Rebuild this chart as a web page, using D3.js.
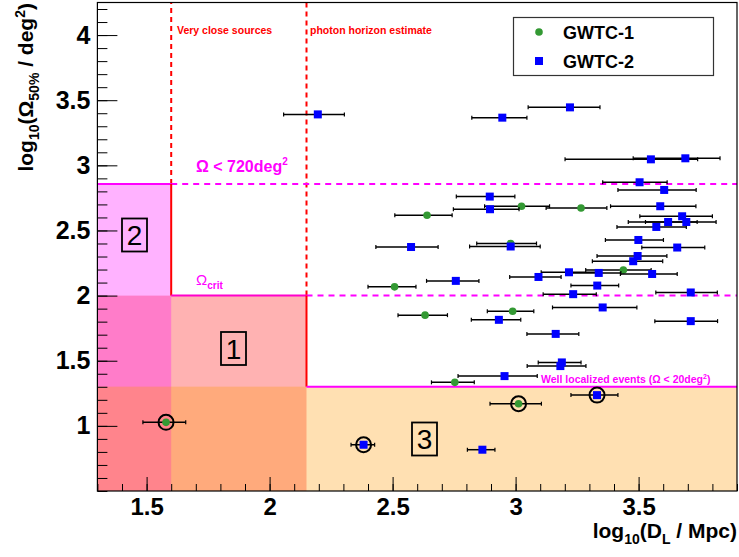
<!DOCTYPE html>
<html>
<head>
<meta charset="utf-8">
<script src="https://cdn.jsdelivr.net/npm/d3@7"></script>
<style>
  body { margin: 0; background: #fff; }
  text { font-family: "Liberation Sans", Arial, sans-serif; }
</style>
</head>
<body>
<svg id="chart" width="739" height="557"></svg>
<script>
// GWTC-1 events: log10(D_L) with x error range, log10(Omega_50%)
var gwtc1X   = [1.579, 3.012, 2.753, 2.632, 2.988, 2.508, 3.438, 2.980, 2.640, 3.024, 3.266];
var gwtc1XLo = [1.485, 2.896, 2.658, 2.522, 2.885, 2.400, 3.285, 2.842, 2.509, 2.874, 3.124];
var gwtc1XHi = [1.659, 3.105, 2.832, 2.723, 3.074, 2.595, 3.551, 3.085, 2.742, 3.138, 3.371];
var gwtc1Y   = [1.027, 1.170, 1.334, 1.850, 1.880, 2.067, 2.197, 2.400, 2.617, 2.686, 2.673];

// GWTC-2 events
var gwtc2X   = [2.196, 2.946, 3.221, 3.550, 3.690, 3.504, 3.604, 2.895, 2.896, 3.588, 3.677, 3.620, 3.694,
                3.572, 3.499, 2.575, 2.980, 3.657, 3.496, 3.478, 3.217, 3.338, 3.555, 3.093, 2.757, 3.332,
                3.234, 3.712, 3.354, 2.932, 3.712, 3.163, 3.188, 3.182, 2.955, 3.331, 2.382, 2.865];
var gwtc2XLo = [2.057, 2.822, 3.051, 3.201, 3.478, 3.354, 3.416, 2.759, 2.747, 3.386, 3.505, 3.458, 3.528,
                3.412, 3.365, 2.432, 2.813, 3.513, 3.331, 3.312, 3.104, 3.224, 3.426, 2.976, 2.638, 3.225,
                3.112, 3.570, 3.150, 2.820, 3.566, 3.046, 3.092, 3.047, 2.766, 3.225, 2.331, 2.804];
var gwtc2XHi = [2.304, 3.046, 3.343, 3.740, 3.831, 3.616, 3.734, 2.997, 3.014, 3.733, 3.800, 3.738, 3.815,
                3.694, 3.601, 2.685, 3.100, 3.769, 3.615, 3.598, 3.335, 3.428, 3.657, 3.185, 2.851, 3.419,
                3.328, 3.820, 3.493, 3.021, 3.821, 3.257, 3.266, 3.286, 3.088, 3.416, 2.427, 2.916];
var gwtc2Y   = [3.391, 3.366, 3.445, 3.046, 3.054, 2.870, 2.811, 2.760, 2.663, 2.686, 2.609, 2.565, 2.565,
                2.527, 2.427, 2.373, 2.377, 2.369, 2.304, 2.264, 2.179, 2.174, 2.166, 2.143, 2.113, 2.077,
                2.011, 2.024, 1.909, 1.814, 1.804, 1.706, 1.487, 1.459, 1.382, 1.236, 0.855, 0.817];

// circled (highlighted) events
var circledX = [1.579, 3.012, 3.331, 2.382];
var circledY = [1.027, 1.170, 1.236, 0.855];

// thresholds
var closeLimit   = 1.6;    // very close sources
var horizonLimit = 2.15;   // photon horizon estimate
var omega720     = Math.log10(720);
var omegaCrit    = 2.0;
var omega20      = Math.log10(20);

var xTicks = [1.5, 2, 2.5, 3, 3.5];
var yTicks = [1, 1.5, 2, 2.5, 3, 3.5, 4];

var svg = d3.select('#chart');

var x = d3.scaleLinear().domain([1.3, 3.9]).range([97.4, 737]);
var y = d3.scaleLinear().domain([0.5, 4.25]).range([491, 2.5]);

var x0 = x.domain()[0], x1 = x.domain()[1];
var y0 = y.domain()[0], y1 = y.domain()[1];

// shaded regions (transparent, overlapping)
function region(xa, xb, ya, yb, col) {
    svg.append('rect')
        .attr('x', x(xa)).attr('y', y(yb))
        .attr('width', x(xb) - x(xa)).attr('height', y(ya) - y(yb))
        .attr('fill', col).attr('fill-opacity', 0.3);
}
region(x0, horizonLimit, y0, omegaCrit, '#ff0000');   // 1
region(x0, closeLimit, y0, omega720, '#ff00ff');      // 2
region(x0, x1, y0, omega20, '#ff9900');               // 3

// dashed threshold lines
function line(xa, ya, xb, yb, col, dash) {
    svg.append('line')
        .attr('x1', x(xa)).attr('y1', y(ya)).attr('x2', x(xb)).attr('y2', y(yb))
        .attr('stroke', col).attr('stroke-width', 2)
        .attr('stroke-dasharray', dash || null);
}
line(closeLimit, omega720, closeLimit, y1, '#ff0000', '5,4');
line(horizonLimit, omegaCrit, horizonLimit, y1, '#ff0000', '5,4');
line(closeLimit, omega720, x1, omega720, '#ff00ff', '6,5');
line(horizonLimit, omegaCrit, x1, omegaCrit, '#ff00ff', '6,5');

// solid region borders
line(x0, omega720, closeLimit, omega720, '#ff00ff');
line(closeLimit, omega720, closeLimit, omegaCrit, '#ff0000');
line(closeLimit, omegaCrit, horizonLimit, omegaCrit, '#ff00cc');
line(horizonLimit, omegaCrit, horizonLimit, omega20, '#ff0000');
line(horizonLimit, omega20, x1, omega20, '#ff00ff');

// axes
var yb = y.range()[0];
svg.append('g').attr('transform', 'translate(0,' + yb + ')')
    .call(d3.axisBottom(x).tickValues(d3.range(13, 40).map(function(d){ return d / 10; }))
        .tickSizeInner(-7).tickSizeOuter(0).tickFormat(''))
    .call(function(g){ g.select('.domain').remove(); });
svg.append('g').attr('transform', 'translate(0,' + yb + ')')
    .call(d3.axisBottom(x).tickValues(xTicks).tickSizeInner(-14).tickSizeOuter(0).tickPadding(7)
        .tickFormat(d3.format('')))
    .call(function(g){
        g.select('.domain').remove();
        g.selectAll('text').attr('font-size', 24).attr('font-weight', 'bold').attr('fill', '#000')
            .attr('font-family', '"Liberation Sans", Arial, sans-serif');
    });

svg.append('g').attr('transform', 'translate(' + x(x0) + ',0)')
    .call(d3.axisLeft(y).tickValues(d3.range(5, 43).map(function(d){ return d / 10; }))
        .tickSizeInner(-10).tickSizeOuter(0).tickFormat(''))
    .call(function(g){ g.select('.domain').remove(); });
svg.append('g').attr('transform', 'translate(' + x(x0) + ',0)')
    .call(d3.axisLeft(y).tickValues(yTicks).tickSizeInner(-20).tickSizeOuter(0).tickPadding(7)
        .tickFormat(d3.format('')))
    .call(function(g){
        g.select('.domain').remove();
        g.selectAll('text').attr('font-size', 25).attr('font-weight', 'bold').attr('fill', '#000')
            .attr('font-family', '"Liberation Sans", Arial, sans-serif');
    });

// frame
svg.append('rect')
    .attr('x', x(x0)).attr('y', y(y1))
    .attr('width', x(x1) - x(x0)).attr('height', y(y0) - y(y1))
    .attr('fill', 'none').attr('stroke', '#000').attr('stroke-width', 1.2);

// data with x error bars
function drawSeries(xs, lo, hi, ys, kind, col) {
    var g = svg.append('g');
    xs.forEach(function(d, i) {
        g.append('line').attr('x1', x(lo[i])).attr('x2', x(hi[i]))
            .attr('y1', y(ys[i])).attr('y2', y(ys[i]))
            .attr('stroke', '#000').attr('stroke-width', 1.5);
        [lo[i], hi[i]].forEach(function(e) {
            g.append('line').attr('x1', x(e)).attr('x2', x(e))
                .attr('y1', y(ys[i]) - 2).attr('y2', y(ys[i]) + 2)
                .attr('stroke', '#000').attr('stroke-width', 1.2);
        });
    });
    xs.forEach(function(d, i) {
        if (kind == 'circle') {
            g.append('circle').attr('cx', x(d)).attr('cy', y(ys[i])).attr('r', 3.8).attr('fill', col);
        } else {
            g.append('rect').attr('x', x(d) - 4).attr('y', y(ys[i]) - 4)
                .attr('width', 8).attr('height', 8).attr('fill', col);
        }
    });
}
drawSeries(gwtc1X, gwtc1XLo, gwtc1XHi, gwtc1Y, 'circle', '#339933');
drawSeries(gwtc2X, gwtc2XLo, gwtc2XHi, gwtc2Y, 'square', '#0000ff');

circledX.forEach(function(d, i) {
    svg.append('circle').attr('cx', x(d)).attr('cy', y(circledY[i])).attr('r', 7.5)
        .attr('fill', 'none').attr('stroke', '#000').attr('stroke-width', 2);
});

// region number boxes
function numBox(cx, cy, label) {
    svg.append('rect').attr('x', cx - 12.5).attr('y', cy - 16.5).attr('width', 25).attr('height', 33)
        .attr('fill', 'none').attr('stroke', '#000').attr('stroke-width', 1.8);
    svg.append('text').attr('x', cx).attr('y', cy + 10).attr('text-anchor', 'middle')
        .attr('font-size', 28).attr('font-family', '"DejaVu Sans", sans-serif').text(label);
}
numBox(134.5, 235, '2');
numBox(233.5, 348.5, '1');
numBox(424.5, 439, '3');

// annotations
svg.append('text').attr('x', 177).attr('y', 34).attr('fill', '#ff0000')
    .attr('font-size', 10.5).attr('font-weight', 'bold').text('Very close sources');
svg.append('text').attr('x', 310).attr('y', 34).attr('fill', '#ff0000')
    .attr('font-size', 10.5).attr('font-weight', 'bold').text('photon horizon estimate');

var t720 = svg.append('text').attr('x', 196).attr('y', 172).attr('fill', '#ff00ff')
    .attr('font-size', 16).attr('font-weight', 'bold');
t720.append('tspan').text('\u03A9 < 720deg');
t720.append('tspan').attr('dy', -7).attr('font-size', 10).text('2');

var tCrit = svg.append('text').attr('x', 196).attr('y', 285).attr('fill', '#ff00ff')
    .attr('font-size', 15);
tCrit.append('tspan').text('\u03A9');
tCrit.append('tspan').attr('dy', 4).attr('font-size', 10).attr('font-weight', 'bold').text('crit');

var tWell = svg.append('text').attr('x', 541).attr('y', 383).attr('fill', '#ff00ff')
    .attr('font-size', 10.5).attr('font-weight', 'bold');
tWell.append('tspan').text('Well localized events (\u03A9 < 20deg');
tWell.append('tspan').attr('dy', -4).attr('font-size', 7).text('2');
tWell.append('tspan').attr('dy', 4).text(')');

// legend
var lg = svg.append('g');
lg.append('rect').attr('x', 513.5).attr('y', 17.5).attr('width', 200).attr('height', 58)
    .attr('fill', '#fff').attr('stroke', '#333').attr('stroke-width', 1.2);
lg.append('circle').attr('cx', 539).attr('cy', 32).attr('r', 3.8).attr('fill', '#339933');
lg.append('rect').attr('x', 535).attr('y', 57).attr('width', 8).attr('height', 8).attr('fill', '#0000ff');
lg.append('text').attr('x', 563).attr('y', 39).attr('font-size', 18).attr('font-weight', 'bold').text('GWTC-1');
lg.append('text').attr('x', 563).attr('y', 68).attr('font-size', 18).attr('font-weight', 'bold').text('GWTC-2');

// axis titles
var xt = svg.append('text').attr('x', 737).attr('y', 538).attr('text-anchor', 'end')
    .attr('font-size', 21).attr('font-weight', 'bold');
xt.append('tspan').text('log');
xt.append('tspan').attr('dy', 6).attr('font-size', 14).text('10');
xt.append('tspan').attr('dy', -6).text('(D');
xt.append('tspan').attr('dy', 6).attr('font-size', 14).text('L');
xt.append('tspan').attr('dy', -6).text(' / Mpc)');

var yt = svg.append('text').attr('transform', 'translate(33,3) rotate(-90)').attr('text-anchor', 'end')
    .attr('font-size', 21).attr('font-weight', 'bold');
yt.append('tspan').text('log');
yt.append('tspan').attr('dy', 6).attr('font-size', 14).text('10');
yt.append('tspan').attr('dy', -6).text('(\u03A9');
yt.append('tspan').attr('dy', 6).attr('font-size', 14).text('50%');
yt.append('tspan').attr('dy', -6).text(' / deg');
yt.append('tspan').attr('dy', -8).attr('font-size', 14).text('2');
yt.append('tspan').attr('dy', 8).text(')');
</script>
</body>
</html>
